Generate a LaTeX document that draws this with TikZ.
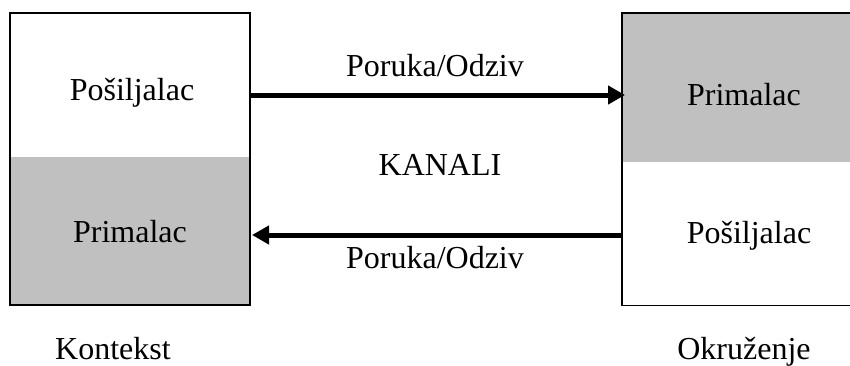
\documentclass[tikz,border=0pt]{standalone}
\usepackage{fontspec}
\setmainfont{Liberation Serif}
\usetikzlibrary{arrows.meta}
\definecolor{panelgray}{RGB}{192,192,192}
\begin{document}
\begin{tikzpicture}[x=1pt,y=-1pt,
  panel/.style={inner sep=0pt,outer sep=0pt,draw=none},
  label/.style={inner sep=0pt,anchor=base,font=\fontsize{32}{38}\selectfont},
  frame/.style={line width=1.6pt,black},
  msg/.style={line width=5pt,black,-{Triangle[length=17pt,width=18pt]}}]
  \useasboundingbox (0,0) rectangle (850,365);
  \clip (0,0) rectangle (850,365);

  % left block: sender (white) over receiver (gray)
  \node[panel,fill=white,minimum width=240pt,minimum height=144pt] (ls) at (130,85) {};
  \node[panel,fill=panelgray,minimum width=240pt,minimum height=148pt] (lp) at (130,231) {};
  \draw[frame] (ls.north west) rectangle (lp.south east);

  % right block: receiver (gray) over sender (white), open to the right
  \node[panel,fill=panelgray,minimum width=230pt,minimum height=149pt] (rp) at (737,87.5) {};
  \node[panel,fill=white,minimum width=230pt,minimum height=143.5pt] (rs) at (737,233.75) {};
  \draw[frame] (rp.north east) -- (rp.north west) -- (rs.south west) -- (rs.south east);

  % texts inside the blocks
  \node[label] (t1) at (132,100) {Pošiljalac};
  \node[label] (t2) at (130,242) {Primalac};
  \node[label] (t3) at (744,105) {Primalac};
  \node[label] (t4) at (749,243) {Pošiljalac};

  % messages between the blocks
  \draw[msg] (ls.east |- 0,95) -- ([xshift=3pt]rp.west |- 0,95);
  \draw[msg] (rs.west |- 0,235) -- ([xshift=2pt]lp.east |- 0,235);

  \node[label] (m1) at (435,76) {Poruka/Odziv};
  \node[label] (m2) at (435,268) {Poruka/Odziv};
  \node[label] (ch) at (440,175) {KANALI};

  % captions below
  \node[label] (c1) at (113,359) {Kontekst};
  \node[label] (c2) at (744,359) {Okruženje};
\end{tikzpicture}
\end{document}
